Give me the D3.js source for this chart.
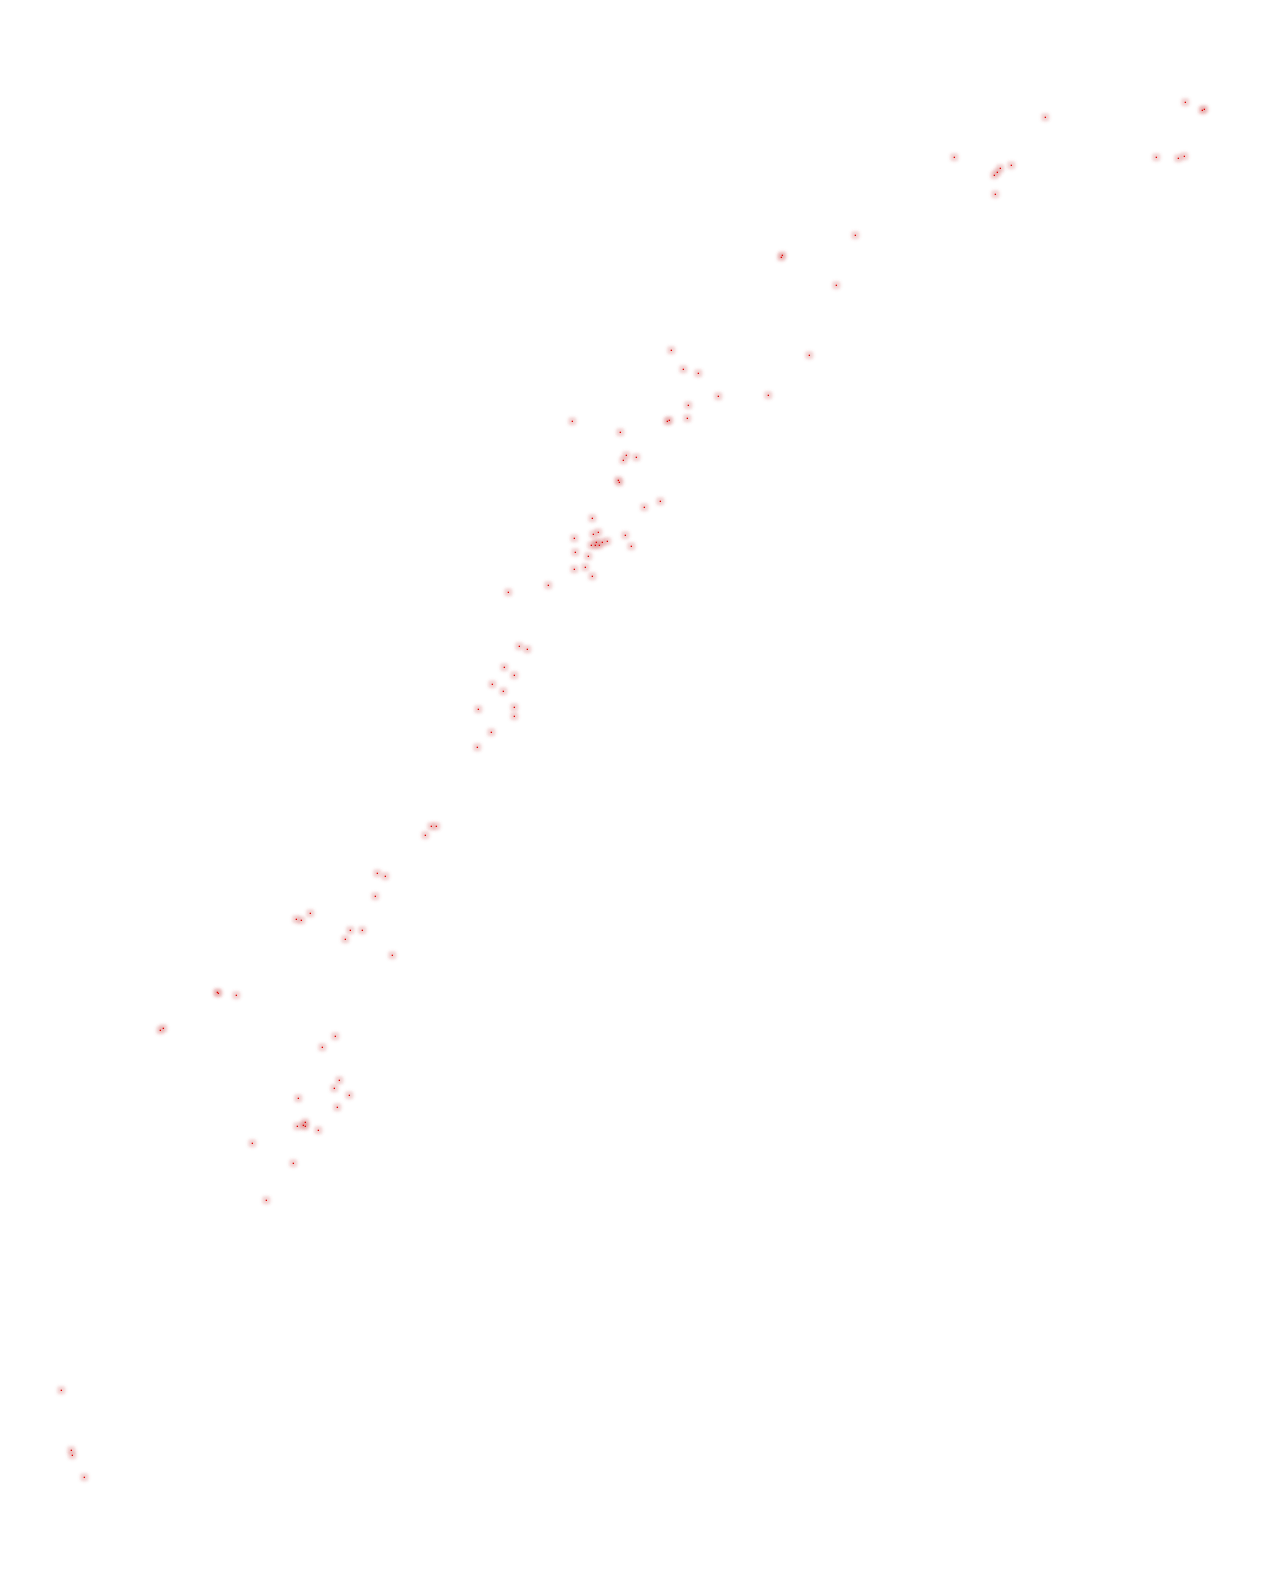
<!DOCTYPE html>
<html>
<head>
<meta charset="utf-8">
<script src="https://cdn.jsdelivr.net/npm/d3@7"></script>
<style>
  html, body { margin: 0; padding: 0; background: #ffffff; }
  svg { display: block; }
</style>
</head>
<body>
<div id="chart"></div>
<script>
const xValues = [
  1185.3, 1202.3, 1204.3, 1045.3, 954.3, 1156.3, 1178.3, 1184.3, 1011.3, 1000.3, 997.3, 994.3, 995.3,
  855.3, 782.3, 781.3, 836.3, 671.3, 809.3, 683.3, 698.3, 718.3, 768.3, 688.3, 687.3, 667.3, 669.3, 572.3,
  620.3, 626.3, 623.3, 636.3, 618.3, 619.3, 660.3, 644.3, 592.3, 598.3, 593.3, 574.3, 625.3, 607.3, 602.3,
  596.3, 591.3, 595.3, 599.3, 631.3, 575.3, 588.3, 585.3, 574.3, 592.3, 548.3, 508.3,
  519.3, 527.3, 504.3, 514.3, 492.3, 503.3, 478.3, 514.3, 514.3, 491.3, 477.3,
  431.3, 436.3, 425.3, 377.3, 385.3, 375.3, 310.3, 296.3, 301.3, 350.3, 362.3, 345.3, 392.3,
  217.3, 218.3, 236.3, 163.3, 160.3,
  335.3, 322.3, 339.3, 334.3, 349.3, 298.3, 337.3, 305.3, 303.3, 305.3, 297.3, 318.3, 252.3, 293.3, 266.3,
  61.3, 71.3, 72.3, 84.3
];
const yValues = [
  102.3, 110.3, 109.3, 117.3, 157.3, 157.3, 158.3, 156.3, 165.3, 168.3, 172.3, 175.3, 194.3,
  235.3, 255.3, 257.3, 285.3, 350.3, 355.3, 369.3, 373.3, 396.3, 395.3, 405.3, 418.3, 421.3, 420.3, 421.3,
  432.3, 455.3, 460.3, 457.3, 480.3, 482.3, 501.3, 507.3, 518.3, 532.3, 534.3, 538.3, 535.3, 541.3, 542.3,
  542.3, 545.3, 545.3, 545.3, 546.3, 552.3, 556.3, 567.3, 569.3, 576.3, 585.3, 592.3,
  646.3, 649.3, 667.3, 675.3, 684.3, 691.3, 709.3, 707.3, 716.3, 732.3, 747.3,
  826.3, 826.3, 835.3, 873.3, 876.3, 896.3, 913.3, 919.3, 920.3, 930.3, 930.3, 939.3, 955.3,
  992.3, 993.3, 995.3, 1028.3, 1030.3,
  1036.3, 1047.3, 1080.3, 1088.3, 1095.3, 1098.3, 1107.3, 1122.3, 1125.3, 1126.3, 1126.3, 1130.3, 1143.3, 1163.3, 1200.3,
  1390.3, 1450.3, 1455.3, 1477.3
];
const xDomain = [0, 1277];
const yDomain = [0, 1580];

const W = 1277, H = 1580;
const points = xValues.map((x, i) => ({ x, y: yValues[i] }));

const x = d3.scaleLinear().domain(xDomain).range([0, W]);
const y = d3.scaleLinear().domain(yDomain).range([0, H]);

const svg = d3.select("#chart").append("svg")
  .attr("width", W).attr("height", H);

const defs = svg.append("defs");
defs.append("filter").attr("id", "glow")
  .attr("x", "-100%").attr("y", "-100%").attr("width", "300%").attr("height", "300%")
  .append("feGaussianBlur").attr("stdDeviation", 1.6);

svg.append("g").selectAll("rect").data(points).join("rect")
  .attr("x", d => x(d.x) - 4).attr("y", d => y(d.y) - 4)
  .attr("width", 8).attr("height", 8).attr("rx", 2)
  .attr("fill", "rgb(205,80,80)").attr("fill-opacity", 0.26)
  .attr("filter", "url(#glow)");

svg.append("g").selectAll("rect").data(points).join("rect")
  .attr("x", d => x(d.x) - 0.6).attr("y", d => y(d.y) - 0.6)
  .attr("width", 1.3).attr("height", 1.3)
  .attr("fill", "#e00000");
</script>
</body>
</html>
